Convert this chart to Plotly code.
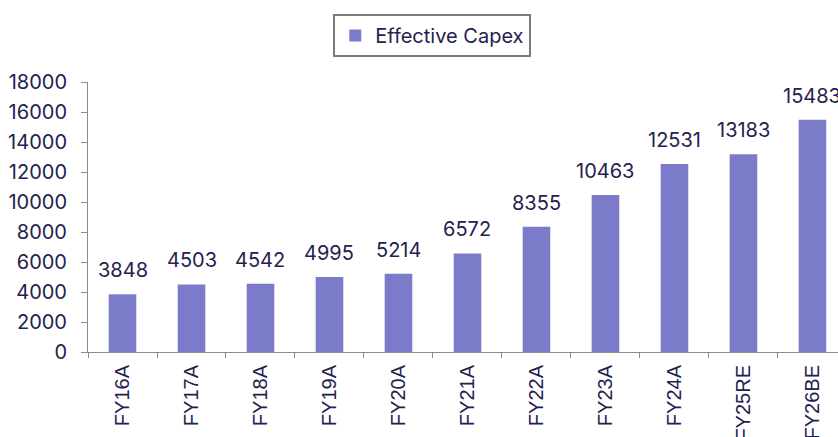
import plotly.graph_objects as go

categories = ["FY16A", "FY17A", "FY18A", "FY19A", "FY20A", "FY21A", "FY22A", "FY23A", "FY24A", "FY25RE", "FY26BE"]
capex = [3848, 4503, 4542, 4995, 5214, 6572, 8355, 10463, 12531, 13183, 15483]
series_name = "Effective Capex"
y_ticks = [0, 2000, 4000, 6000, 8000, 10000, 12000, 14000, 16000, 18000]

bar_color = "#7B7BC9"
text_color = "#24214F"
axis_color = "#8C8C8C"
font_main = "Inter, Lato, sans-serif"

fig = go.Figure()
fig.add_trace(go.Bar(
    x=categories, y=capex, name=series_name,
    marker=dict(color=bar_color, line=dict(width=0)),
    width=0.4,
    showlegend=True,
))

for c, v in zip(categories, capex):
    fig.add_annotation(
        x=c, y=v, text=str(v), showarrow=False,
        xanchor="center", yanchor="bottom", yshift=10,
        font=dict(size=20, color=text_color, family=font_main),
    )

fig.update_layout(
    width=838, height=437,
    margin=dict(l=88, r=0, t=82, b=85, autoexpand=False),
    plot_bgcolor="white", paper_bgcolor="white",
    font=dict(family=font_main, color=text_color, size=20),
    showlegend=True,
    legend=dict(
        x=0.459, xanchor="center", y=1.252, yanchor="top",
        orientation="h",
        bordercolor="#7A7A7A", borderwidth=2,
        font=dict(size=20, color=text_color, family=font_main),
        itemwidth=30,
    ),
    bargap=0.6,
)
fig.update_xaxes(
    type="category",
    range=[-0.5, 10.37],
    tickangle=-90,
    tickfont=dict(family="Liberation Sans, Arial, sans-serif", size=20, color=text_color),
    showline=True, linecolor=axis_color, linewidth=1,
    ticks="outside", ticklen=5, tickcolor=axis_color, tickson="boundaries",
    ticklabelstandoff=4,
    showgrid=False, automargin=False,
)
fig.update_yaxes(
    range=[0, 18000],
    tickvals=y_ticks,
    ticktext=[str(v) for v in y_ticks],
    tickfont=dict(size=20, color=text_color, family=font_main),
    showline=True, linecolor=axis_color, linewidth=1,
    ticks="outside", ticklen=6, tickcolor=axis_color,
    ticklabelstandoff=10,
    showgrid=False, zeroline=False, automargin=False,
)

fig.write_html(
    "out.html",
    config={"displayModeBar": False},
    post_script="document.body.style.margin='0';document.body.style.overflow='hidden';",
)
